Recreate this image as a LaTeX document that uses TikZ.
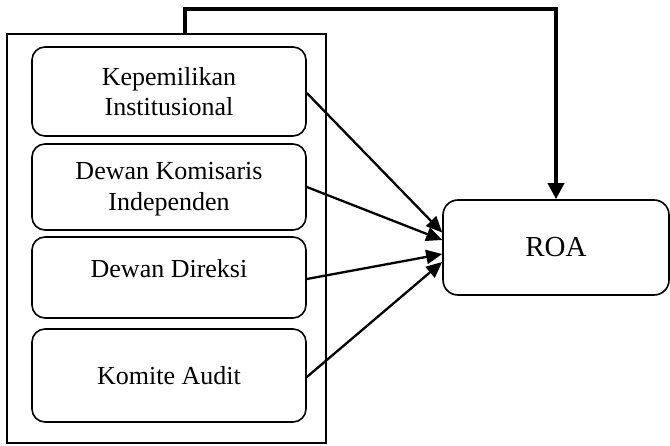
\documentclass[tikz,border=0pt]{standalone}
\usepackage{fontspec}
\setmainfont{Liberation Serif}
\usetikzlibrary{arrows.meta}
\begin{document}
\begin{tikzpicture}[x=1pt,y=-1pt,
  varbox/.style={draw,line width=1.6pt,rounded corners=13pt,minimum width=274pt,align=center,
     font=\fontsize{26}{30}\selectfont,inner sep=0pt},
  outerbox/.style={draw,line width=1.6pt,minimum width=319pt,minimum height=409pt,inner sep=0pt},
  roabox/.style={draw,line width=1.6pt,rounded corners=15pt,minimum width=226pt,minimum height=95pt,
     font=\fontsize{29}{33}\selectfont,inner sep=0pt},
  conn/.style={line width=2.3pt,-{Triangle[width=14pt,length=16pt]}},
  bigconn/.style={line width=3.6pt,-{Triangle[width=16pt,length=16pt]}}]
\useasboundingbox (0,0) rectangle (670,446);
\node[outerbox] (outer) at (166.5,238.5) {};
\node[varbox,minimum height=89pt] (b1) at (169,91.5) {Kepemilikan\\Institusional};
\node[varbox,minimum height=86pt] (b2) at (169,187) {\raisebox{-2pt}[\height][\depth]{\begin{tabular}{@{}c@{}}Dewan Komisaris\\[1pt]Independen\end{tabular}}};
\node[varbox,minimum height=81pt] (b3) at (169,277.5) {\raisebox{9pt}[\height][\depth]{Dewan Direksi}};
\node[varbox,minimum height=93pt] (b4) at (169,375.5) {Komite Audit};
\node[roabox] (roa) at (556,247.5) {ROA};
\draw[bigconn] (outer.north west) ++(179,0) -- ++(0,-24) -| (roa.north);
\draw[conn] ([yshift=-1.5pt]b1.east) -- ([yshift=15pt]roa.west);
\draw[conn] (b2.east) -- ([yshift=7.5pt]roa.west);
\draw[conn] ([yshift=-1.5pt]b3.east) -- ([yshift=-6.5pt]roa.west);
\draw[conn] ([yshift=-1.5pt]b4.east) -- ([yshift=-14.5pt]roa.west);
\end{tikzpicture}
\end{document}
